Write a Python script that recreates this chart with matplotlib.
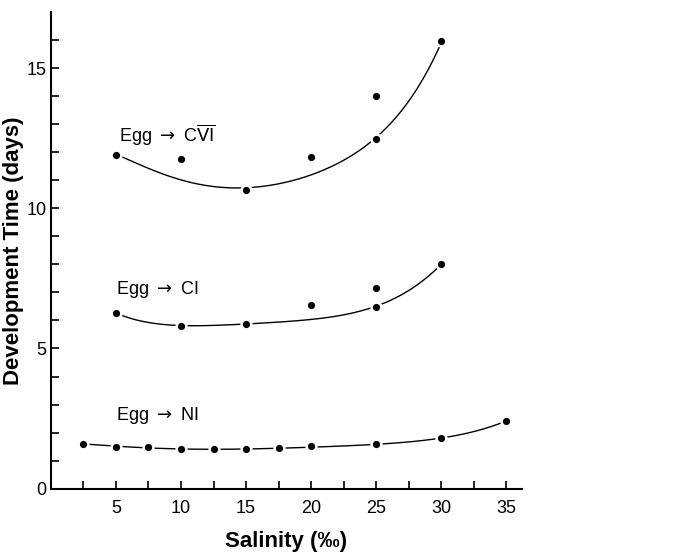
# plot.py
# development time vs salinity, three stages
import numpy as np
import matplotlib.pyplot as plt

plt.rcParams['font.family'] = ['Liberation Sans Narrow', 'Liberation Sans', 'DejaVu Sans']

# measured points
ni_sal = [2.5, 5, 7.5, 10, 12.5, 15, 17.5, 20, 25, 30, 35]
ni_days = [1.6, 1.5, 1.48, 1.41, 1.42, 1.42, 1.45, 1.51, 1.61, 1.82, 2.42]

ci_sal = [5, 10, 15, 20, 25, 25, 30]
ci_days = [6.26, 5.82, 5.89, 6.56, 7.17, 6.48, 8.01]

cvi_sal = [5, 10, 15, 20, 25, 25, 30]
cvi_days = [11.9, 11.76, 10.66, 11.82, 14.0, 12.46, 15.98]

# hand-drawn fitted curves
ni_curve_x = [2.5, 5, 7.5, 10, 12.5, 15, 17.5, 20, 25, 30, 35]
ni_curve_y = [1.6, 1.5, 1.46, 1.42, 1.41, 1.41, 1.43, 1.48, 1.59, 1.8, 2.42]
ci_curve_x = [5.3, 7.5, 10, 12.5, 15, 20, 25, 27.5, 30]
ci_curve_y = [6.2, 5.95, 5.8, 5.82, 5.88, 6.05, 6.48, 7.1, 8.0]
cvi_curve_x = [5.5, 7.5, 10, 12.5, 15, 17.5, 20, 22.5, 25, 27.5, 30]
cvi_curve_y = [11.82, 11.45, 11.0, 10.79, 10.7, 10.88, 11.26, 11.7, 12.46, 13.9, 15.9]

fig = plt.figure(figsize=(6.78, 5.54), dpi=100)
ax = fig.add_axes([0.075, 0.118, 0.695, 0.86])


def draw_curve(xs, ys, deg):
    p = np.polyfit(xs, ys, deg)
    xx = np.linspace(xs[0], xs[-1], 300)
    ax.plot(xx, np.polyval(p, xx), color='black', lw=1.0, zorder=2)


draw_curve(ni_curve_x, ni_curve_y, 5)
draw_curve(ci_curve_x, ci_curve_y, 5)
draw_curve(cvi_curve_x, cvi_curve_y, 5)

for xs, ys in [(ni_sal, ni_days), (ci_sal, ci_days), (cvi_sal, cvi_days)]:
    ax.plot(xs, ys, 'o', color='black', markersize=7,
            markeredgecolor='white', markeredgewidth=1.8, zorder=3)

# stage labels
ax.text(5.2, 12.6, r'Egg $\rightarrow$ C$\overline{\mathrm{VI}}$', fontsize=13, va='center')
ax.text(5.0, 7.1, r'Egg $\rightarrow$ CI', fontsize=13, va='center')
ax.text(5.0, 2.6, r'Egg $\rightarrow$ NI', fontsize=13, va='center')

ax.set_xlim(0, 36.2)
ax.set_ylim(0, 17)
ax.set_xticks(np.arange(2.5, 36, 2.5), minor=True)
ax.set_xticks([5, 10, 15, 20, 25, 30, 35])
ax.set_yticks(np.arange(1, 17, 1), minor=True)
ax.set_yticks([0, 5, 10, 15])
ax.tick_params(which='both', direction='in', length=6, width=1.2, labelsize=13, pad=8)
ax.tick_params(axis='y', which='both', pad=3)

for s in ['top', 'right']:
    ax.spines[s].set_visible(False)
for s in ['left', 'bottom']:
    ax.spines[s].set_linewidth(1.5)

ax.set_xlabel('Salinity (‰)', fontsize=16, fontweight='bold', labelpad=10)
ax.set_ylabel('Development Time (days)', fontsize=16, fontweight='bold', labelpad=2)

fig.savefig('out.png')
